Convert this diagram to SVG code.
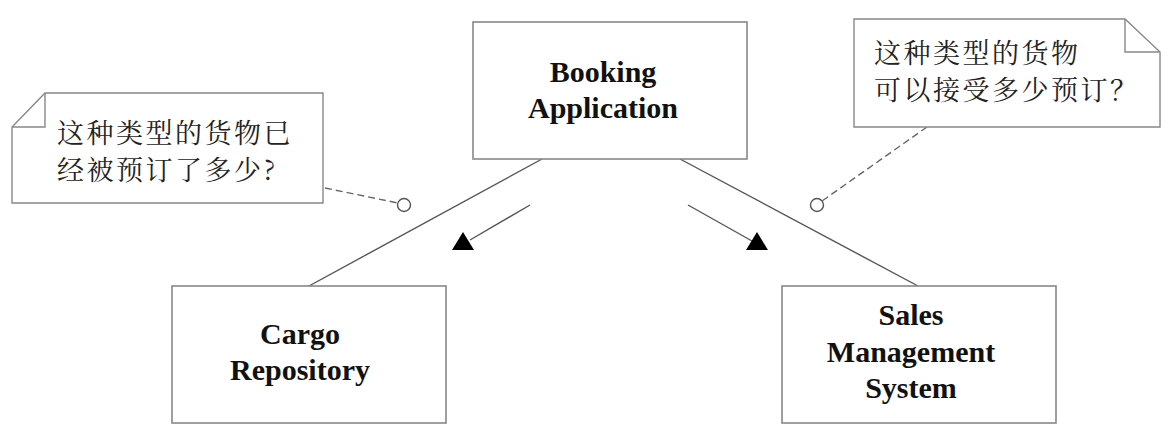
<svg xmlns="http://www.w3.org/2000/svg" width="1176" height="440" viewBox="0 0 1176 440">
<style>
.box{fill:#fff;stroke:#888;stroke-width:1.6}
.lbl{font-family:"Liberation Serif","Times New Roman",serif;font-weight:bold;font-size:30px;fill:#111;text-anchor:middle}
.note{fill:#fff;stroke:#888;stroke-width:1.4}
.fold{fill:none;stroke:#888;stroke-width:1.4}
.ntxt{font-family:"Noto Serif CJK SC","Noto Sans CJK SC",serif;font-size:27px;fill:#222;letter-spacing:2.5px}
.conn{stroke:#555;stroke-width:1.4;fill:none}
.dash{stroke:#666;stroke-width:1.4;stroke-dasharray:7 4;fill:none}
.pin{fill:#fff;stroke:#555;stroke-width:1.4}
.tri{fill:#000}
</style>
<rect width="1176" height="440" fill="#fff"/>
<g id="connectors">
<line class="conn" x1="542" y1="159" x2="309" y2="286"/>
<line class="conn" x1="680" y1="159" x2="918" y2="286"/>
<line class="conn" x1="530" y1="205" x2="470" y2="240"/>
<polygon class="tri" points="463,232 452,250 474,250"/>
<line class="conn" x1="688" y1="205" x2="752" y2="241"/>
<polygon class="tri" points="757,232 746,250 768,250"/>
<line class="dash" x1="325" y1="188" x2="398" y2="203"/>
<circle class="pin" cx="404" cy="205" r="6.5"/>
<line class="dash" x1="927" y1="127" x2="822" y2="201"/>
<circle class="pin" cx="817" cy="205" r="6.5"/>
</g>
<g id="booking">
<rect class="box" x="473" y="22" width="274" height="137"/>
<text class="lbl" x="603" y="82">Booking</text>
<text class="lbl" x="603" y="118">Application</text>
</g>
<g id="cargo">
<rect class="box" x="172" y="286" width="274" height="137"/>
<text class="lbl" x="300" y="344">Cargo</text>
<text class="lbl" x="300" y="380">Repository</text>
</g>
<g id="sales">
<rect class="box" x="782" y="286" width="274" height="137"/>
<text class="lbl" x="911" y="325">Sales</text>
<text class="lbl" x="911" y="362">Management</text>
<text class="lbl" x="911" y="398">System</text>
</g>
<g id="note-left">
<path class="note" d="M45,93 H323 V203 H12 V127 Z"/>
<path class="fold" d="M45,93 V127 H12"/>
<text class="ntxt" x="57" y="143">这种类型的货物已</text>
<text class="ntxt" x="57" y="180">经被预订了多少?</text>
</g>
<g id="note-right">
<path class="note" d="M854,19 H1125 L1160,52 V127 H854 Z"/>
<path class="fold" d="M1125,19 V52 H1160"/>
<text class="ntxt" x="874" y="63">这种类型的货物</text>
<text class="ntxt" x="874" y="100">可以接受多少预订？</text>
</g>
</svg>
